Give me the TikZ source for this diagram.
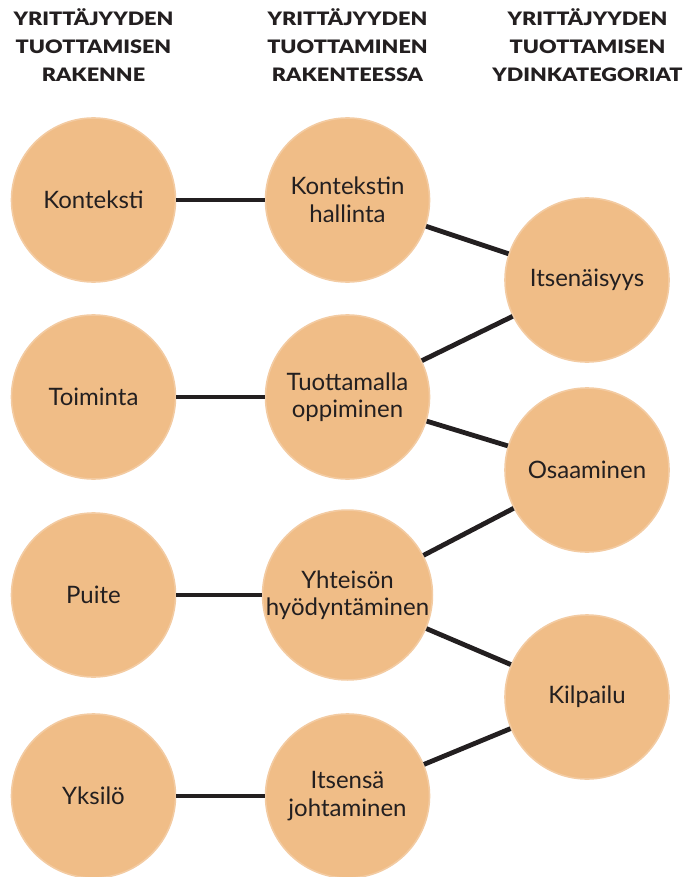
\documentclass[tikz,border=0pt]{standalone}
\usepackage{fontspec}
\setmainfont{Lato}
\newfontfamily\headfont{Lato Black}
\newcommand{\hw}[1]{\scalebox{1.17}[1]{#1}}
\begin{document}
\definecolor{peach}{HTML}{F0BD87}
\definecolor{peachrim}{HTML}{F3CBA2}
\definecolor{ink}{HTML}{231F20}
\begin{tikzpicture}[x=1pt,y=-1pt,
  bubble/.style={circle,fill=peach,draw=peachrim,line width=1.6pt,
    minimum size=164pt,inner sep=0pt,align=center,text=ink,
    font=\fontsize{24}{27.5}\selectfont},
  head/.style={align=center,text=ink,inner sep=0pt,anchor=base,
    font=\fontsize{18.5}{28}\headfont},
  link/.style={draw=ink,line width=4.8pt}]
\useasboundingbox (0,0) rectangle (689,877);
% column headings (anchored at the baseline of the last line)
\node[head] (h1) at (93.5,82) {\hw{YRITTÄJYYDEN}\\\hw{TUOTTAMISEN}\\\hw{RAKENNE}};
\node[head] (h2) at (347.5,82) {\hw{YRITTÄJYYDEN}\\\hw{TUOTTAMINEN}\\\hw{RAKENTEESSA}};
\node[head] (h3) at (587.5,82) {\hw{YRITTÄJYYDEN}\\\hw{TUOTTAMISEN}\\\hw{YDINKATEGORIAT}};
% left column
\node[bubble] (a1) at (93.5,200) {Konteksti};
\node[bubble] (a2) at (93.5,397) {Toiminta};
\node[bubble] (a3) at (93.5,595) {Puite};
\node[bubble] (a4) at (93.5,796) {Yksilö};
% middle column
\node[bubble] (b1) at (347.5,200) {Kontekstin\\hallinta};
\node[bubble] (b2) at (347.5,397) {Tuottamalla\\oppiminen};
\node[bubble] (b3) at (347.5,595) {Yhteisön\\hyödyntäminen};
\node[bubble] (b4) at (347.5,796) {Itsensä\\johtaminen};
% right column
\node[bubble] (c1) at (587,280) {Itsenäisyys};
\node[bubble] (c2) at (587,470) {Osaaminen};
\node[bubble] (c3) at (587,697) {Kilpailu};
% connectors
\draw[link] (a1) -- (b1);
\draw[link] (a2) -- (b2);
\draw[link] (a3) -- (b3);
\draw[link] (a4) -- (b4);
\draw[link] (b1) -- (c1);
\draw[link] (b2) -- (c1);
\draw[link] (b2) -- (c2);
\draw[link] (b3) -- (c2);
\draw[link] (b3) -- (c3);
\draw[link] (b4) -- (c3);
\end{tikzpicture}
\end{document}
